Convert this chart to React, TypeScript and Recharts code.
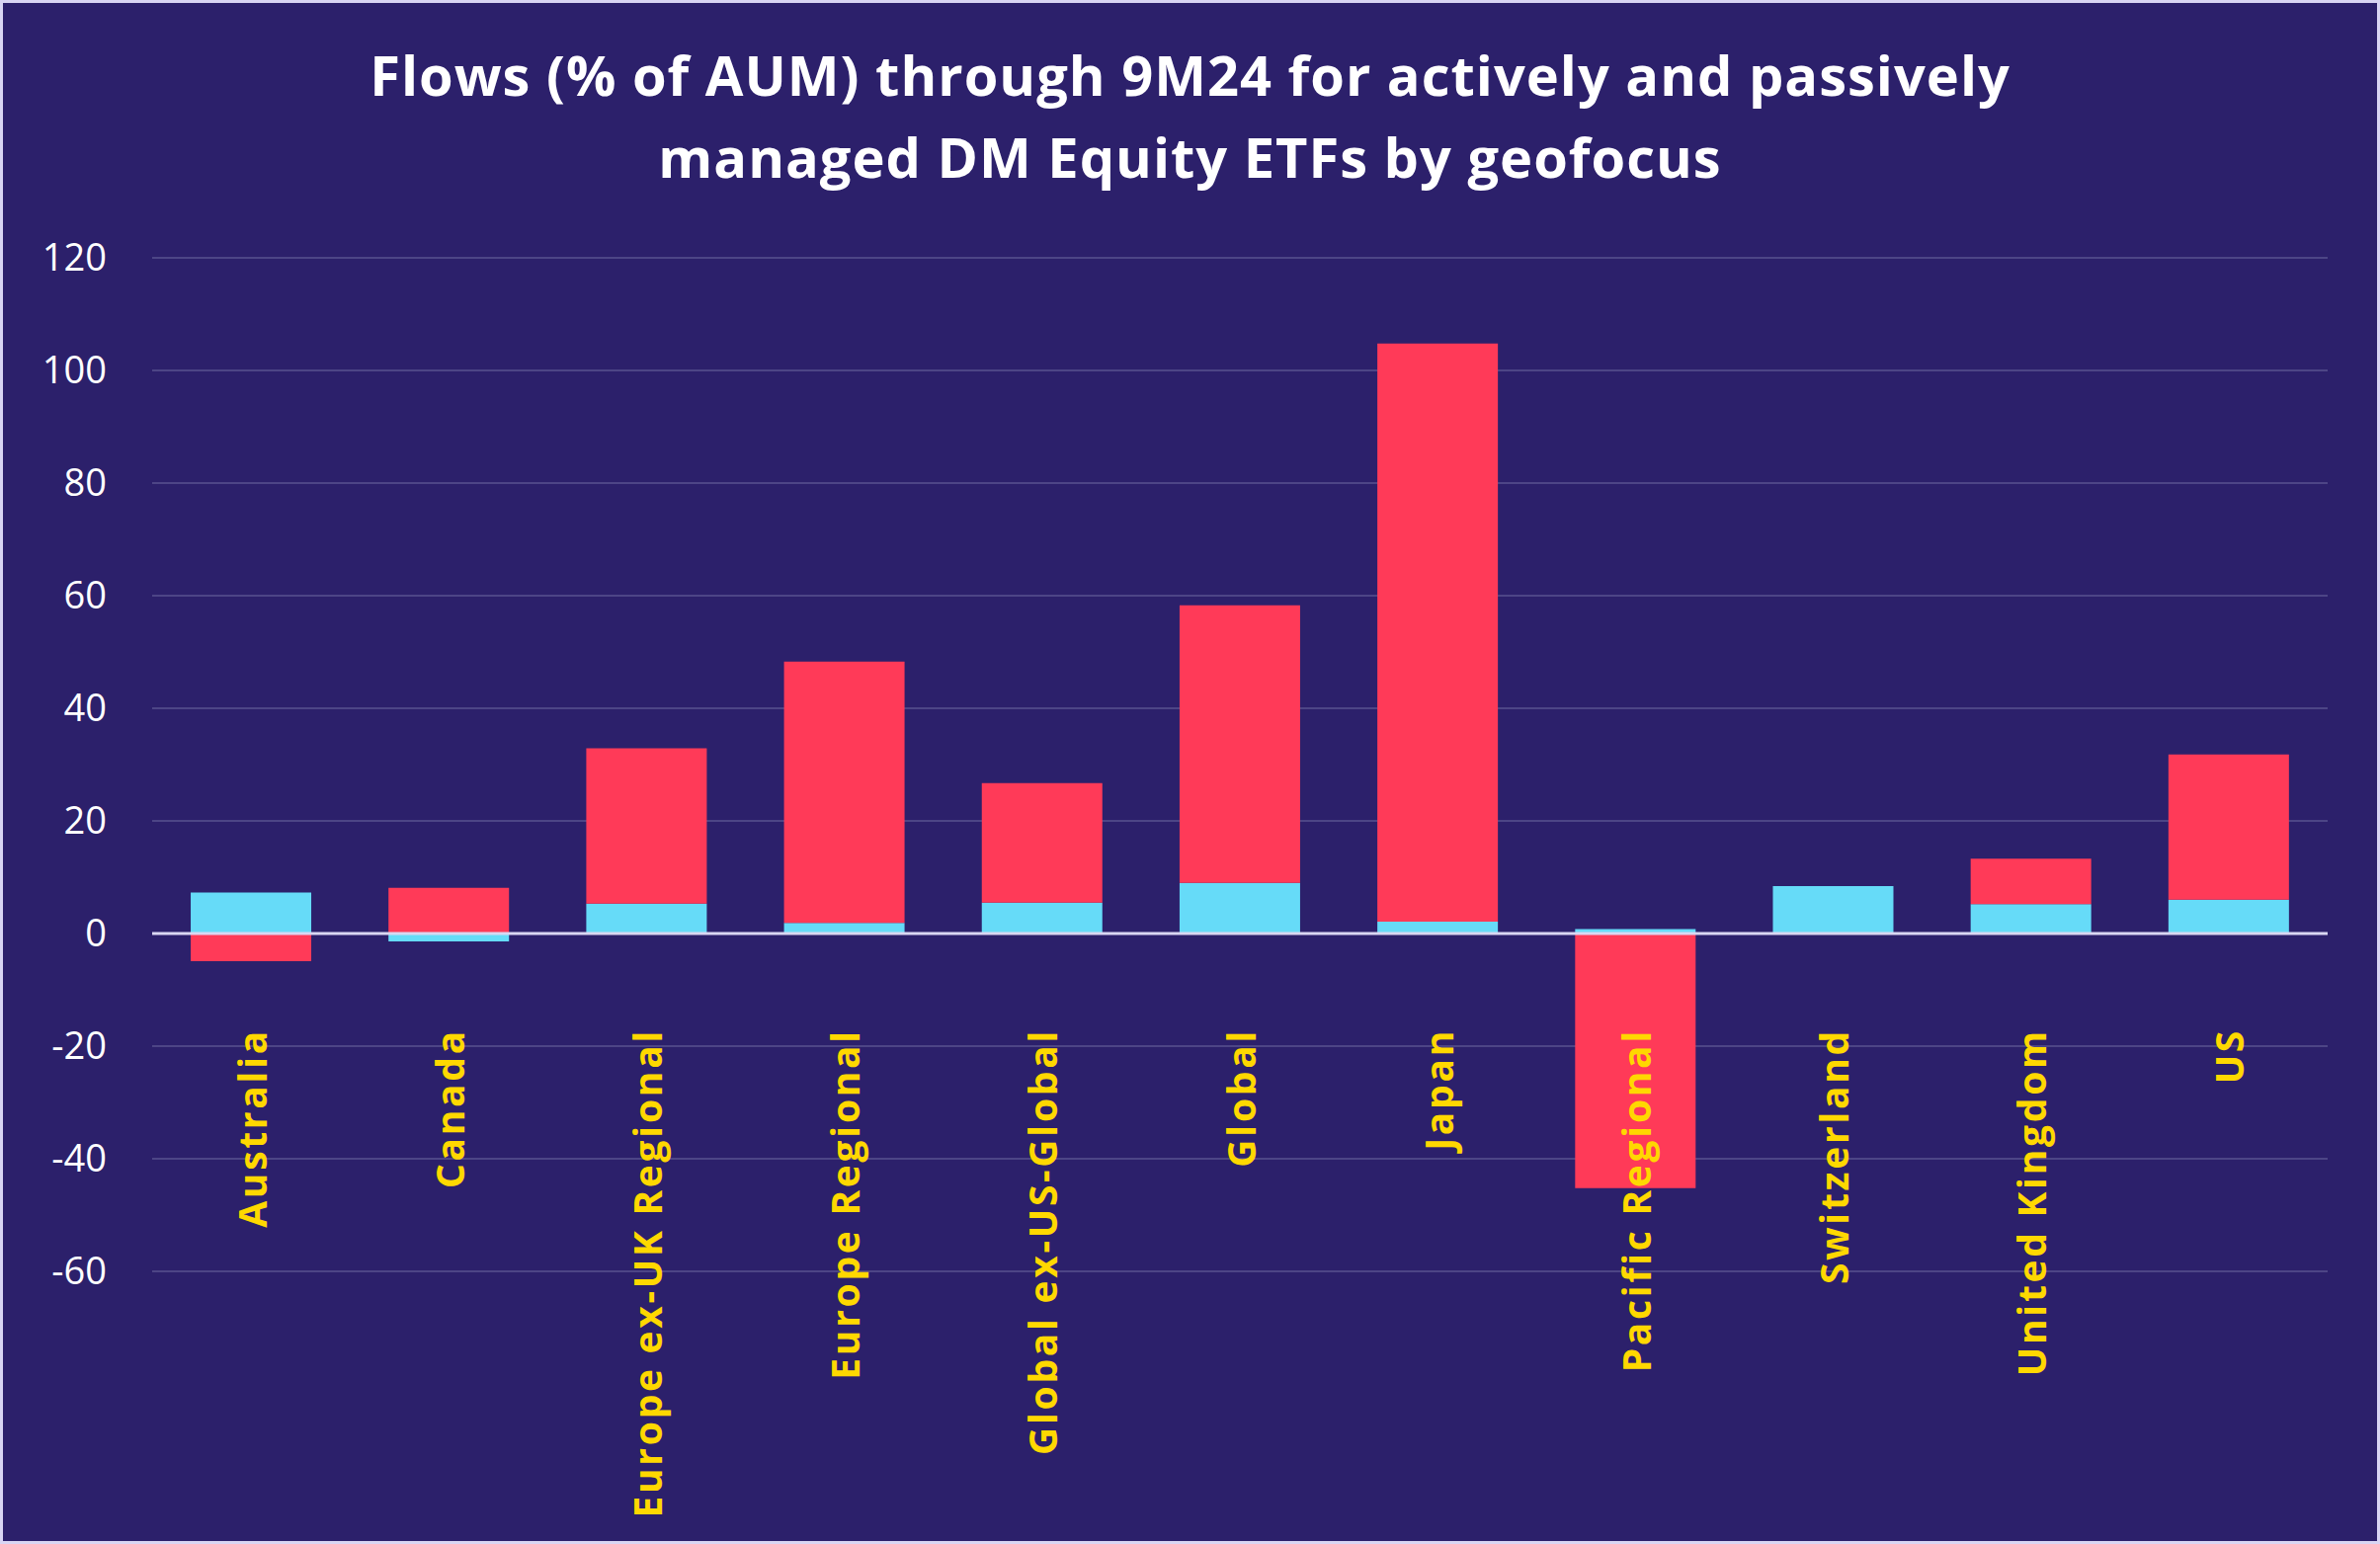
import { Bar, BarChart, CartesianGrid, ReferenceLine, XAxis, YAxis } from 'recharts'

const categories = [
  'Australia',
  'Canada',
  'Europe ex-UK Regional',
  'Europe Regional',
  'Global ex-US-Global',
  'Global',
  'Japan',
  'Pacific Regional',
  'Switzerland',
  'United Kingdom',
  'US',
]

// cyan series (bottom of stack) and red series (on top)
const passiveFlows = [7.3, -1.4, 5.3, 1.9, 5.5, 9.0, 2.1, 0.8, 8.4, 5.2, 6.0]
const activeFlows = [-4.9, 8.1, 27.6, 46.4, 21.2, 49.3, 102.7, -45.2, 0, 8.1, 25.8]

const yTicks = [-60, -40, -20, 0, 20, 40, 60, 80, 100, 120]

const W = 2409
const H = 1563
const PLOT_TOP = 261
const PLOT_LEFT = 154
const PLOT_RIGHT = 53
const X_AXIS_H = 276
const PLOT_BOTTOM = H - X_AXIS_H
const ZERO_Y = PLOT_TOP + (120 / 180) * (PLOT_BOTTOM - PLOT_TOP)

const BG = '#2C206B'
const CYAN = '#66DBF8'
const RED = '#FF3A58'
const YELLOW = '#FFD800'

const data = categories.map((name, i) => ({
  name,
  passive: passiveFlows[i],
  active: activeFlows[i],
}))

function CategoryTick({ x, payload }: any) {
  const ty = ZERO_Y + 96
  return (
    <text
      x={x}
      y={ty}
      transform={`rotate(-90, ${x}, ${ty})`}
      textAnchor="end"
      dominantBaseline="central"
      fill={YELLOW}
      fontFamily="'Open Sans', sans-serif"
      fontWeight={700}
      fontSize={39}
      letterSpacing={2.7}
    >
      {payload.value}
    </text>
  )
}

export default function App() {
  return (
    <div
      style={{
        position: 'absolute',
        top: 0,
        left: 0,
        width: W,
        height: H,
        background: BG,
        boxShadow: 'inset 0 0 0 3px #D9D5F3',
        overflow: 'hidden',
      }}
    >
      <div
        style={{
          position: 'absolute',
          top: 34,
          left: 0,
          width: W,
          textAlign: 'center',
          color: '#FFFFFF',
          fontFamily: "'Open Sans', sans-serif",
          fontWeight: 700,
          fontSize: 56,
          letterSpacing: 1,
          lineHeight: '83px',
        }}
      >
        Flows (% of AUM) through 9M24 for actively and passively
        <br />
        managed DM Equity ETFs by geofocus
      </div>
      <div style={{ position: 'absolute', top: 0, left: 0 }}>
        <BarChart
          width={W}
          height={H}
          data={data}
          stackOffset="sign"
          barCategoryGap="19.5%"
          margin={{ top: PLOT_TOP, right: PLOT_RIGHT, bottom: 0, left: 0 }}
        >
          <CartesianGrid vertical={false} stroke="#4D4586" strokeWidth={2} />
          <XAxis
            dataKey="name"
            height={X_AXIS_H}
            axisLine={false}
            tickLine={false}
            interval={0}
            tick={<CategoryTick />}
          />
          <YAxis
            width={PLOT_LEFT}
            domain={[-60, 120]}
            ticks={yTicks}
            axisLine={false}
            tickLine={false}
            tickSize={0}
            tickMargin={46}
            tick={{ fill: '#FFFFFF', fontSize: 38, fontFamily: "'Open Sans', sans-serif" }}
          />
          <Bar dataKey="passive" stackId="a" fill={CYAN} isAnimationActive={false} />
          <Bar dataKey="active" stackId="a" fill={RED} isAnimationActive={false} />
          <ReferenceLine y={0} stroke="#D9D6F2" strokeWidth={3} />
        </BarChart>
      </div>
    </div>
  )
}
